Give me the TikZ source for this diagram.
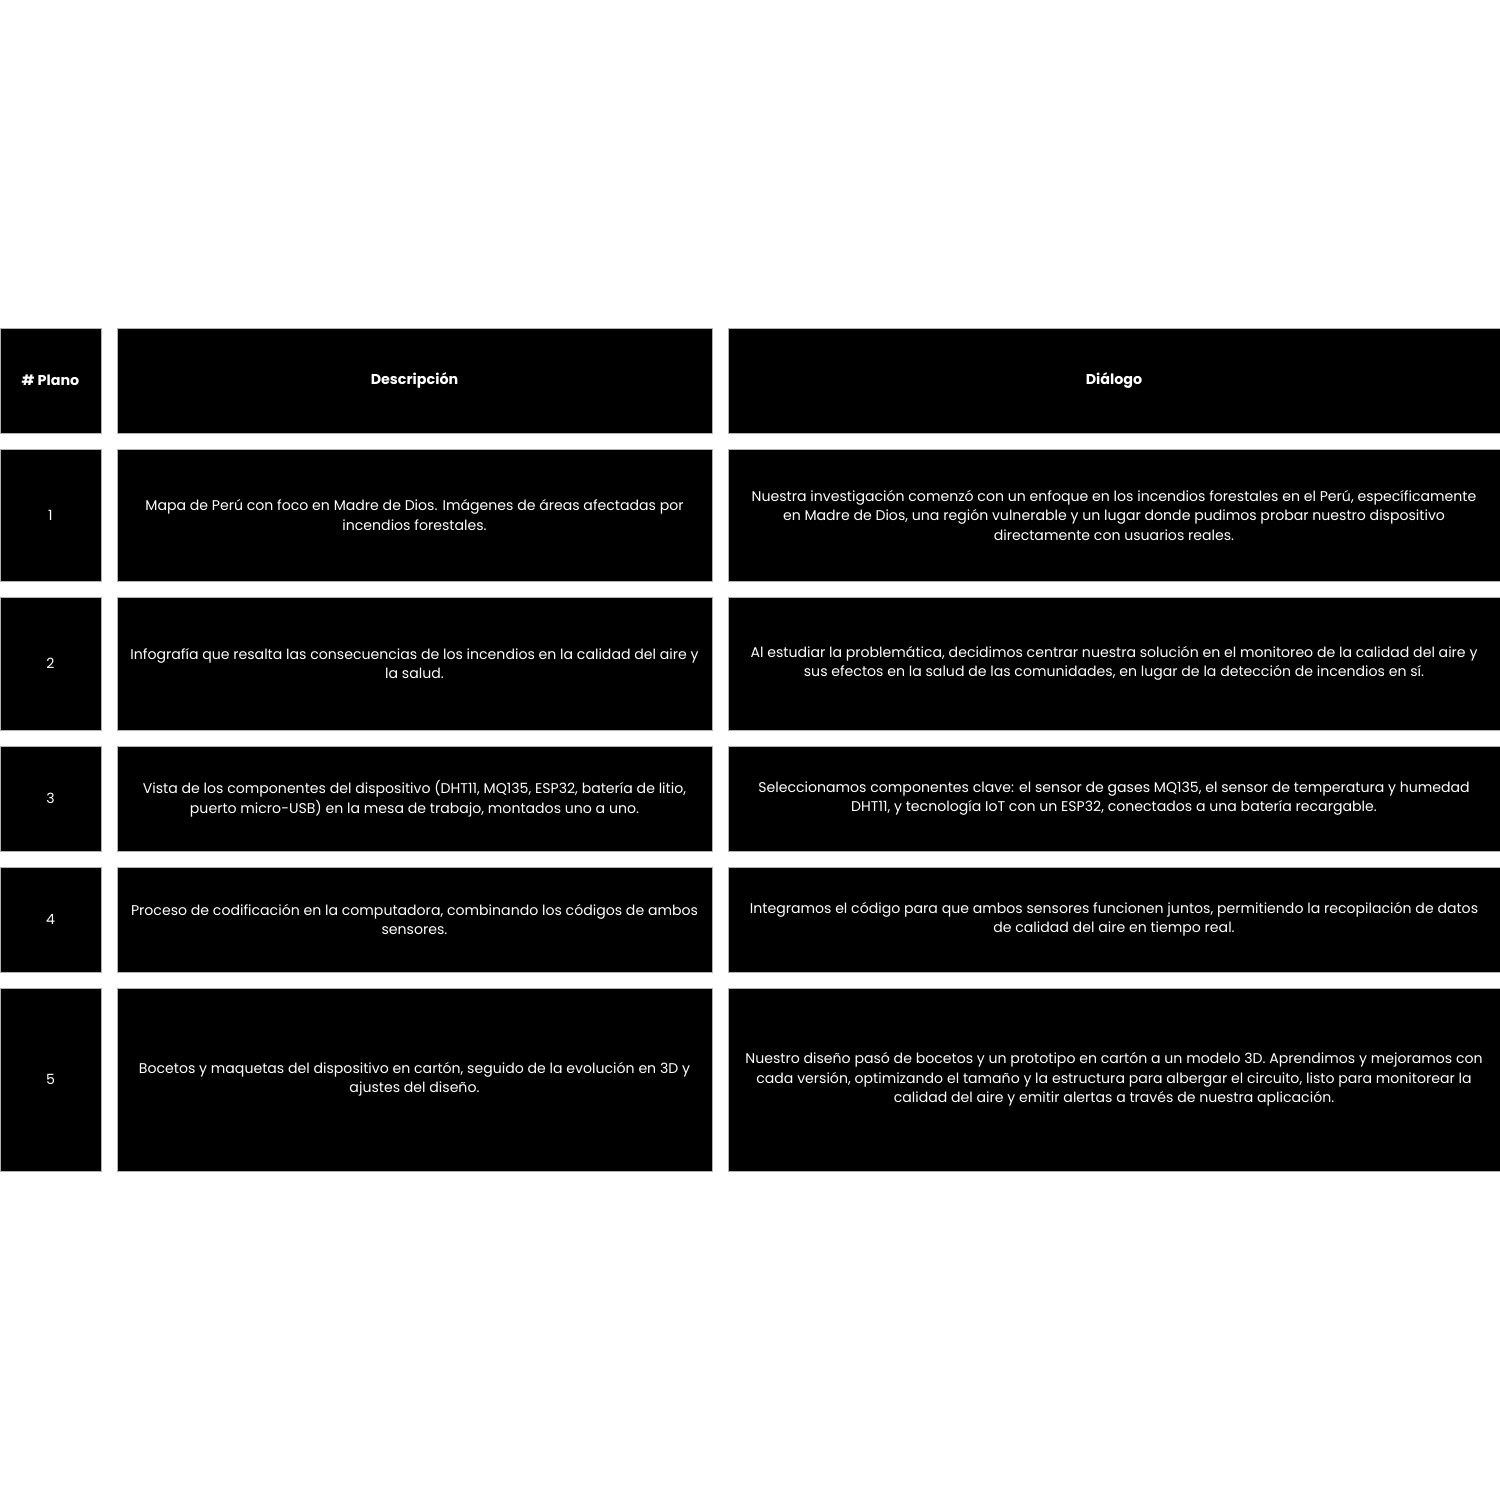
\documentclass[tikz,border=0pt]{standalone}
\usepackage{fontspec}
\setmainfont{Poppins}
\usetikzlibrary{positioning}
\tikzset{
    x=1pt, y=-1pt, % one unit per pixel of the page
    cell/.style={draw=gray!60, line width=0.6pt, fill=black, text=white, align=center, inner sep=0pt, font=\fontsize{14.1}{19.5}\selectfont}, % every box of the table
    head/.style={cell, font=\fontsize{14.3}{19.5}\selectfont\bfseries},
    colA/.style={minimum width=101pt},
    colB/.style={minimum width=595pt},
    colC/.style={minimum width=772pt},
}

\begin{document}
\begin{tikzpicture}
    \fill[white] (0,0) rectangle (1500,1500);
    \useasboundingbox (0,0) rectangle (1500,1500);
    % header
    \node[head, colA, minimum height=105pt] (h1) at (50.5,380.5) {\# Plano};
    \node[head, colB, minimum height=105pt] (h2) at (414.5,380.5) {Descripción};
    \node[head, colC, minimum height=105pt] (h3) at (1114,380.5) {Diálogo};
    % row 1
    \node[cell, colA, minimum height=132pt] (a1) at (50.5,515) {1};
    \node[cell, colB, minimum height=132pt] (b1) at (414.5,515) {Mapa de Perú con foco en Madre de Dios. Imágenes de áreas afectadas por\\incendios forestales.};
    \node[cell, colC, minimum height=132pt] (c1) at (1114,515) {Nuestra investigación comenzó con un enfoque en los incendios forestales en el Perú, específicamente\\en Madre de Dios, una región vulnerable y un lugar donde pudimos probar nuestro dispositivo\\directamente con usuarios reales.};
    % row 2
    \node[cell, colA, minimum height=133pt] (a2) at (50.5,663.5) {2};
    \node[cell, colB, minimum height=133pt] (b2) at (414.5,663.5) {Infografía que resalta las consecuencias de los incendios en la calidad del aire y\\la salud.};
    \node[cell, colC, minimum height=133pt] (c2) at (1114,663.5) {Al estudiar la problemática, decidimos centrar nuestra solución en el monitoreo de la calidad del aire y\\sus efectos en la salud de las comunidades, en lugar de la detección de incendios en sí.};
    % row 3
    \node[cell, colA, minimum height=105pt] (a3) at (50.5,798.5) {3};
    \node[cell, colB, minimum height=105pt] (b3) at (414.5,798.5) {Vista de los componentes del dispositivo (DHT11, MQ135, ESP32, batería de litio,\\puerto micro-USB) en la mesa de trabajo, montados uno a uno.};
    \node[cell, colC, minimum height=105pt] (c3) at (1114,798.5) {Seleccionamos componentes clave: el sensor de gases MQ135, el sensor de temperatura y humedad\\DHT11, y tecnología IoT con un ESP32, conectados a una batería recargable.};
    % row 4
    \node[cell, colA, minimum height=105pt] (a4) at (50.5,919.5) {4};
    \node[cell, colB, minimum height=105pt] (b4) at (414.5,919.5) {Proceso de codificación en la computadora, combinando los códigos de ambos\\sensores.};
    \node[cell, colC, minimum height=105pt] (c4) at (1114,919.5) {Integramos el código para que ambos sensores funcionen juntos, permitiendo la recopilación de datos\\de calidad del aire en tiempo real.};
    % row 5
    \node[cell, colA, minimum height=183pt] (a5) at (50.5,1079.5) {5};
    \node[cell, colB, minimum height=183pt] (b5) at (414.5,1079.5) {Bocetos y maquetas del dispositivo en cartón, seguido de la evolución en 3D y\\ajustes del diseño.};
    \node[cell, colC, minimum height=183pt] (c5) at (1114,1079.5) {Nuestro diseño pasó de bocetos y un prototipo en cartón a un modelo 3D. Aprendimos y mejoramos con\\cada versión, optimizando el tamaño y la estructura para albergar el circuito, listo para monitorear la\\calidad del aire y emitir alertas a través de nuestra aplicación.};
\end{tikzpicture}
\end{document}
